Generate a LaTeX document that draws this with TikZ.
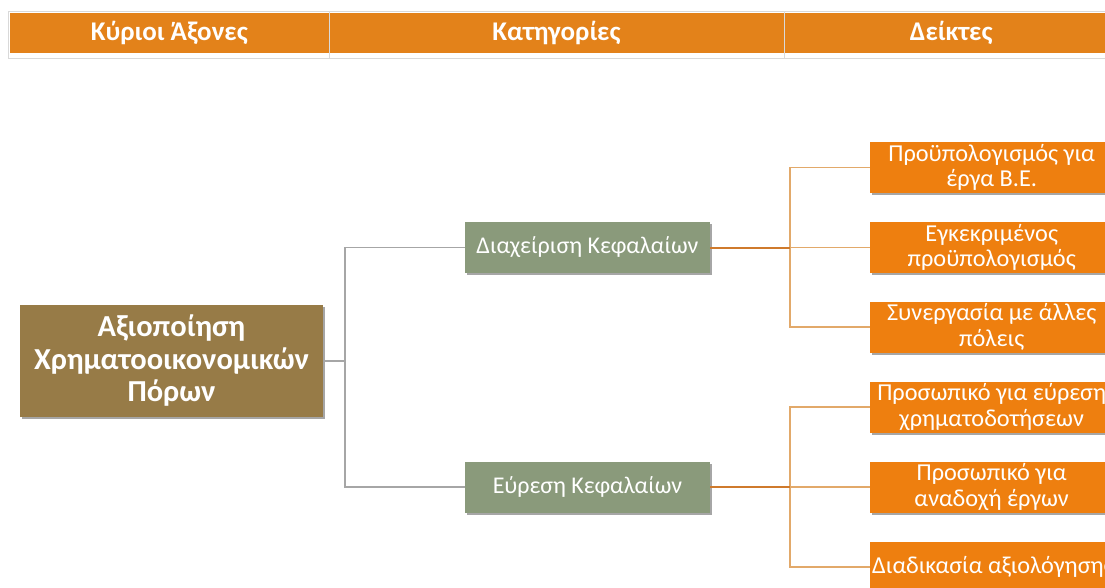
\documentclass[tikz,border=0pt]{standalone}
\usepackage{fontspec}
\setmainfont{Carlito}
\usetikzlibrary{shadows}
\definecolor{hdrorange}{HTML}{E3821A}
\definecolor{leaforange}{HTML}{EE7F0F}
\definecolor{rootbrown}{HTML}{977B47}
\definecolor{catgreen}{HTML}{8A9A7B}
\definecolor{linkgray}{HTML}{A6A6A6}
\definecolor{linkdark}{HTML}{CF7A2C}
\definecolor{linklight}{HTML}{E2A96A}

\begin{document}
\begin{tikzpicture}[x = 1pt, y = -1pt,
    box/.style = {inner sep=0pt, align=center, text=white,
        drop shadow={shadow xshift=2pt, shadow yshift=-2pt, opacity=0.35, fill=black}},
    root/.style = {box, fill=rootbrown, minimum width=303pt, minimum height=112pt,
        font=\fontsize{30.5}{32.5}\selectfont\bfseries},
    cat/.style = {box, fill=catgreen, minimum width=245pt, minimum height=51pt,
        font=\fontsize{24}{26}\selectfont},
    leaf/.style = {box, fill=leaforange, anchor=west, inner xsep=2pt, minimum width=243pt,
        minimum height=51pt, font=\fontsize{24.3}{25.5}\selectfont},
    hdr/.style = {fill=hdrorange, inner sep=0pt, minimum height=40.5pt, text=white,
        font=\fontsize{27}{29}\selectfont\bfseries},
    glink/.style = {linkgray, line width=1.5pt},
    olink/.style = {linklight, line width=1.5pt},
    odark/.style = {linkdark, line width=2pt}]
    \clip (0,0) rectangle (1105,587);

    % header of the table
    \draw[black!15, line width=0.8pt]
    (8,11) rectangle (1120,58)
    (329,11) -- (329,58)
    (784,11) -- (784,58);
    \node[hdr, minimum width=318.5pt] (h1) at (169.25,32.75) {Κύριοι Άξονες};
    \node[hdr, minimum width=454pt] (h2) at (556.5,32.75) {Κατηγορίες};
    \node[hdr, minimum width=333.5pt] (h3) at (951.25,32.75) {Δείκτες};

    % tree
    \node[root] (root) at (171.5,361) {Αξιοποίηση\\Χρηματοοικονομικών\\Πόρων};
    \node[cat] (c1) at (587.5,247.5) {Διαχείριση Κεφαλαίων};
    \node[cat] (c2) at (587.5,487) {Εύρεση Κεφαλαίων};

    \node[leaf] (l1) at (870,167.5) {Προϋπολογισμός για\\έργα Β.Ε.};
    \node[leaf] (l2) at (870,247.5) {Εγκεκριμένος\\προϋπολογισμός};
    \node[leaf] (l3) at (870,327) {Συνεργασία με άλλες\\πόλεις};
    \node[leaf] (l4) at (870,407) {Προσωπικό για εύρεση\\χρηματοδοτήσεων};
    \node[leaf] (l5) at (870,487) {Προσωπικό για\\αναδοχή έργων};
    \node[leaf] (l6) at (870,567) {Διαδικασία αξιολόγησης};

    \coordinate (rj) at (345,361);
    \coordinate (j1) at (790,247.5);
    \coordinate (j2) at (790,487);

    \draw[glink] (root.east) -- (rj);
    \draw[glink] (c1.west) -| (rj) |- (c2.west);

    \draw[olink] (l1.west) -| (j1) |- (l3.west);
    \draw[olink] (j1) -- (l2.west);
    \draw[odark] (c1.east) -- (j1);

    \draw[olink] (l4.west) -| (j2) |- (l6.west);
    \draw[olink] (j2) -- (l5.west);
    \draw[odark] (c2.east) -- (j2);
\end{tikzpicture}
\end{document}
